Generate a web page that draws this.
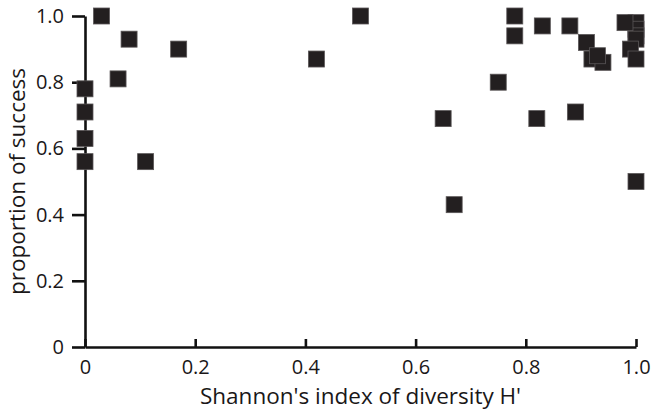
<!DOCTYPE html>
<html>
<head>
<meta charset="utf-8">
<script src="https://cdn.jsdelivr.net/npm/d3@7"></script>
<style>
	body { margin: 0; background: #fff; }
	svg text { font-family: "Open Sans", "Noto Sans", sans-serif; fill: #1a1718; }
</style>
</head>
<body>
<div id="chart"></div>
<script>
// Shannon's index of diversity (x) against proportion of success (y)
const diversity = [
	0.03, 0.08, 0.17, 0.06, 0, 0, 0, 0, 0.11,
	0.42, 0.5,
	0.65, 0.67, 0.75, 0.78, 0.78, 0.82, 0.83, 0.88, 0.89,
	0.91, 0.92, 0.94, 0.93,
	1.0, 1.0, 1.0, 1.0, 0.98, 0.99, 1.0, 1.0,
];
const success = [
	1.0, 0.93, 0.9, 0.81, 0.78, 0.71, 0.63, 0.56, 0.56,
	0.87, 1.0,
	0.69, 0.43, 0.8, 1.0, 0.94, 0.69, 0.97, 0.97, 0.71,
	0.92, 0.87, 0.86, 0.88,
	0.98, 0.96, 0.94, 0.93, 0.98, 0.9, 0.87, 0.5,
];
const xTicks = [0, 0.2, 0.4, 0.6, 0.8, 1.0];
const yTicks = [0, 0.2, 0.4, 0.6, 0.8, 1.0];
const xTitle = "Shannon's index of diversity H'";
const yTitle = "proportion of success";

const width = 652;
const height = 411;
const margin = { top: 16, right: 16, bottom: 64, left: 85 };

const points = diversity.map((d, i) => ({ x: d, y: success[i] }));

const x = d3
	.scaleLinear()
	.domain([0, 1])
	.range([margin.left, width - margin.right]);

const y = d3
	.scaleLinear()
	.domain([0, 1])
	.range([height - margin.bottom, margin.top]);

const fmt = (d) => (d === 0 ? "0" : d3.format(".1f")(d));

const svg = d3
	.select("#chart")
	.append("svg")
	.attr("width", width)
	.attr("height", height)
	.attr("viewBox", [0, 0, width, height]);

// x axis: ticks point inwards
const xAxis = svg
	.append("g")
	.attr("transform", `translate(0,${y(0)})`)
	.call(
		d3
			.axisBottom(x)
			.tickValues(xTicks)
			.tickFormat(fmt)
			.tickSizeInner(-8)
			.tickSizeOuter(0)
			.tickPadding(13),
	);

// y axis: ticks point outwards
const yAxis = svg
	.append("g")
	.attr("transform", `translate(${x(0)},0)`)
	.call(
		d3
			.axisLeft(y)
			.tickValues(yTicks)
			.tickFormat(fmt)
			.tickSizeInner(13)
			.tickSizeOuter(0)
			.tickPadding(8),
	);

[xAxis, yAxis].forEach((g) => {
	g.select(".domain").attr("stroke", "#111").attr("stroke-width", 2.6);
	g.selectAll(".tick line").attr("stroke", "#111").attr("stroke-width", 2.6);
	g.selectAll(".tick text")
		.attr("font-size", 20)
		.attr("fill", "#1a1718");
});

// squares
const s = 16;
svg
	.append("g")
	.selectAll()
	.data(points)
	.join("rect")
	.attr("x", (d) => x(d.x) - s / 2)
	.attr("y", (d) => y(d.y) - s / 2)
	.attr("width", s)
	.attr("height", s)
	.attr("fill", "#231f20")
	.attr("stroke", "#5a5657")
	.attr("stroke-width", 0.8);

// axis titles
svg
	.append("text")
	.attr("x", (x(0) + x(1)) / 2)
	.attr("y", 404)
	.attr("text-anchor", "middle")
	.attr("font-size", 22.5)
	.text(xTitle);

svg
	.append("text")
	.attr("transform", `translate(25,${(y(0) + y(1)) / 2}) rotate(-90)`)
	.attr("text-anchor", "middle")
	.attr("font-size", 22.5)
	.text(yTitle);
</script>
</body>
</html>
